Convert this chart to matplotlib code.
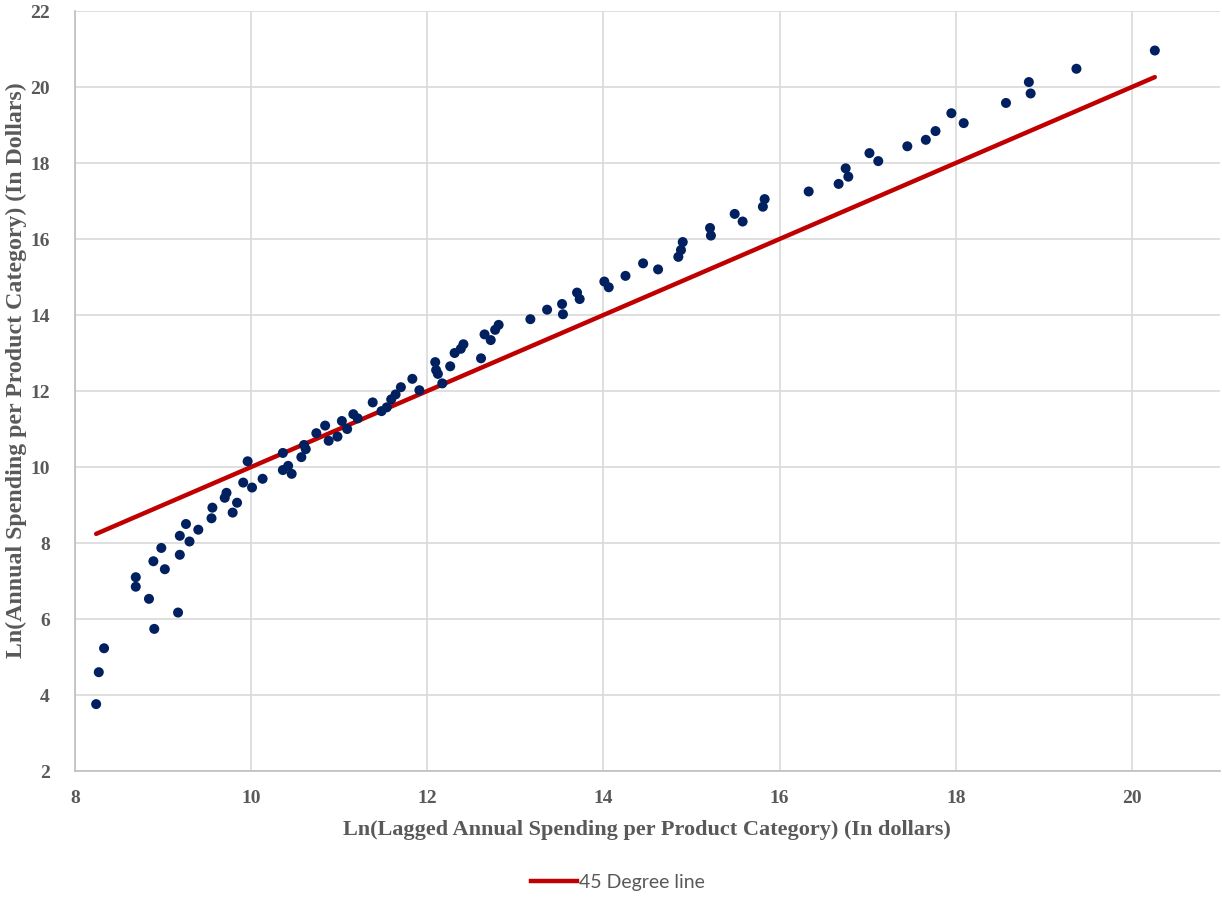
import matplotlib
matplotlib.use("Agg")
import matplotlib.pyplot as plt
from matplotlib.lines import Line2D

# ---- data ----
lagged_x = [8.24, 8.27, 8.33, 8.69, 8.69, 8.84, 8.90, 8.89, 8.98, 9.02,
            9.17, 9.19, 9.19, 9.26, 9.30, 9.40, 9.55, 9.56, 9.70, 9.72,
            9.79, 9.84, 9.91, 9.96, 10.01, 10.13, 10.36, 10.36, 10.42, 10.46,
            10.57, 10.60, 10.62, 10.74, 10.84, 10.88, 10.98, 11.03, 11.09, 11.16,
            11.21, 11.38, 11.48, 11.54, 11.59, 11.64, 11.70, 11.83, 11.91, 12.09,
            12.10, 12.12, 12.17, 12.26, 12.31, 12.38, 12.41, 12.61, 12.65, 12.72,
            12.77, 12.81, 13.17, 13.36, 13.53, 13.54, 13.70, 13.73, 14.01, 14.06,
            14.25, 14.45, 14.62, 14.85, 14.88, 14.90, 15.21, 15.22, 15.49, 15.58,
            15.81, 15.83, 16.33, 16.67, 16.75, 16.78, 17.02, 17.12, 17.45, 17.66,
            17.77, 17.95, 18.09, 18.57, 18.83, 18.85, 19.37, 20.26]
annual_y = [3.76, 4.60, 5.23, 7.10, 6.85, 6.53, 5.74, 7.52, 7.87, 7.31,
            6.17, 7.69, 8.19, 8.50, 8.04, 8.35, 8.65, 8.93, 9.19, 9.32,
            8.80, 9.06, 9.59, 10.15, 9.46, 9.69, 10.37, 9.92, 10.03, 9.82,
            10.26, 10.58, 10.47, 10.89, 11.09, 10.69, 10.80, 11.21, 11.00, 11.39,
            11.28, 11.70, 11.47, 11.57, 11.78, 11.91, 12.10, 12.32, 12.02, 12.76,
            12.55, 12.45, 12.20, 12.65, 13.00, 13.11, 13.23, 12.86, 13.49, 13.34,
            13.61, 13.74, 13.89, 14.14, 14.29, 14.02, 14.59, 14.42, 14.88, 14.73,
            15.03, 15.36, 15.20, 15.53, 15.71, 15.92, 16.29, 16.09, 16.66, 16.46,
            16.85, 17.05, 17.25, 17.45, 17.86, 17.64, 18.26, 18.05, 18.44, 18.61,
            18.84, 19.31, 19.05, 19.58, 20.13, 19.83, 20.48, 20.96]
line45_x = [8.24, 20.26]
line45_y = [8.24, 20.26]

x_ticks = [8, 10, 12, 14, 16, 18, 20]
y_ticks = [2, 4, 6, 8, 10, 12, 14, 16, 18, 20, 22]

xlabel = "Ln(Lagged Annual Spending per Product Category) (In dollars)"
ylabel = "Ln(Annual Spending per Product Category) (In Dollars)"
legend_label = "45 Degree line"

# ---- figure ----
W, H = 1222, 897
fig = plt.figure(figsize=(W / 100, H / 100), dpi=100)
ax = fig.add_axes([75 / W, 1 - 771 / H, (1220 - 75) / W, (771 - 11) / H])

navy = "#002060"
red = "#C00000"
grid_c = "#D9D9D9"
text_c = "#595959"

ax.plot(line45_x, line45_y, color=red, lw=3.2, solid_capstyle="round", zorder=2)
ax.scatter(lagged_x, annual_y, s=52, color=navy, edgecolors="none", zorder=3)

ax.set_xlim(8, 21)
ax.set_ylim(2, 22)
ax.set_xticks(x_ticks)
ax.set_yticks(y_ticks)
ax.grid(True, color=grid_c, lw=1.2, zorder=0)
ax.set_axisbelow(True)
for s in ["top", "right"]:
    ax.spines[s].set_visible(False)
for s in ["left", "bottom"]:
    ax.spines[s].set_color("#BFBFBF")
    ax.spines[s].set_linewidth(1.2)
ax.tick_params(length=0, labelcolor=text_c)
ax.tick_params(axis="x", pad=14)
ax.tick_params(axis="y", pad=18)
for lab in ax.get_xticklabels() + ax.get_yticklabels():
    lab.set_fontfamily("Liberation Serif")
    lab.set_fontweight("bold")
    lab.set_fontsize(14)

fig.text(647 / W, 1 - 830 / H, xlabel, ha="center", va="center",
         fontfamily="Liberation Serif", fontweight="bold", fontsize=16, color=text_c)
fig.text(16 / W, 1 - 370 / H, ylabel, ha="center", va="center", rotation=90,
         fontfamily="Liberation Serif", fontweight="bold", fontsize=17.2, color=text_c)

handle = Line2D([0], [0], color=red, lw=3.2)
fig.legend([handle], [legend_label], loc="center", bbox_to_anchor=(618 / W, 1 - 882 / H),
           frameon=False, handlelength=2.4, handletextpad=0.1,
           prop={"family": "Lato", "size": 14})
for t in fig.legends[0].get_texts():
    t.set_color(text_c)

fig.savefig("out.png", dpi=100)
